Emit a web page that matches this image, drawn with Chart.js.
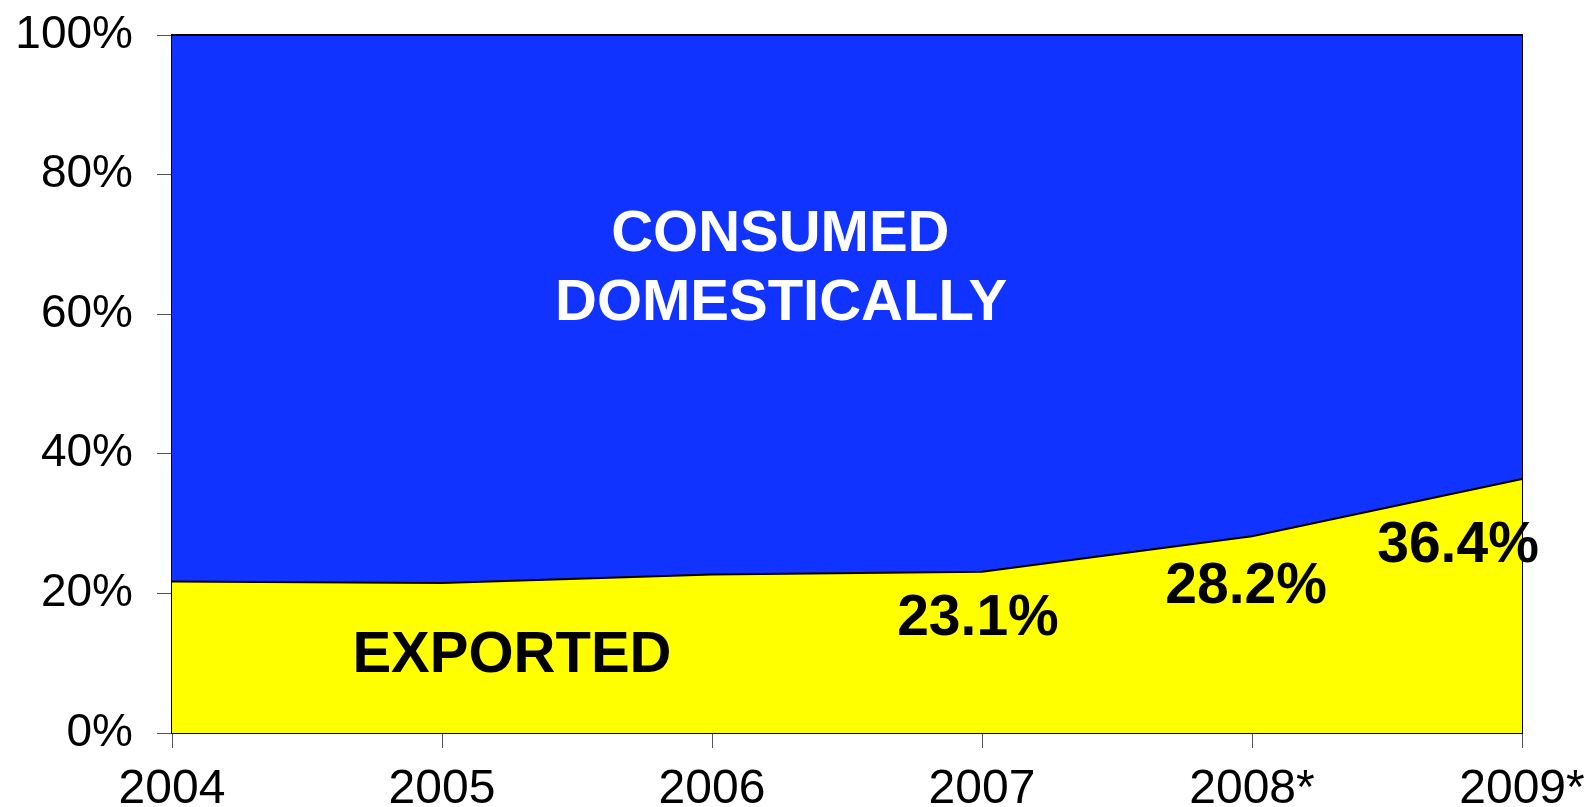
<!DOCTYPE html>
<html lang="en">
<head>
<meta charset="UTF-8">
<title>Exported vs consumed domestically</title>
<style>
    body { margin: 0; background: #fff; }
    .wrap { width: 1590px; height: 807px; position: relative; }
</style>
<script src="https://cdn.jsdelivr.net/npm/chart.js"></script>
</head>
<body>
<div class="wrap"><canvas id="chart"></canvas></div>
<script>
// data
const years = ['2004', '2005', '2006', '2007', '2008*', '2009*'];
const exported = [21.7, 21.5, 22.7, 23.1, 28.2, 36.4];
const consumed = [78.3, 78.5, 77.3, 76.9, 71.8, 63.6];
const yTicks = [0, 20, 40, 60, 80, 100];
const labelledPoints = [3, 4, 5]; // points that carry a value label

// where the texts sit, in axis units (x = category index, y = percent of baseline)
const valueLabelPos = [[2.985, 14.0], [3.978, 18.6], [4.763, 24.5]];
const areaLabels = [
    { text: 'CONSUMED', x: 2.253, y: 69.0, color: '#fff' },
    { text: 'DOMESTICALLY', x: 2.256, y: 59.2, color: '#fff' },
    { text: 'EXPORTED', x: 1.259, y: 8.75, color: '#000' }
];

const FONT = '"Liberation Sans", Arial, sans-serif';

const textPlugin = {
    id: 'areaText',
    afterDatasetsDraw(chart) {
        const { ctx, scales: { x, y } } = chart;
        ctx.save();
        ctx.textAlign = 'center';
        ctx.textBaseline = 'alphabetic';
        ctx.font = 'bold 58px ' + FONT;
        areaLabels.forEach(l => {
            ctx.fillStyle = l.color;
            ctx.fillText(l.text, x.getPixelForValue(l.x), y.getPixelForValue(l.y));
        });
        ctx.font = 'bold 57px ' + FONT;
        ctx.fillStyle = '#000';
        labelledPoints.forEach((i, k) => {
            const p = valueLabelPos[k];
            ctx.fillText(exported[i].toFixed(1) + '%', x.getPixelForValue(p[0]), y.getPixelForValue(p[1]));
        });
        ctx.restore();
    }
};

new Chart(document.getElementById('chart'), {
    type: 'line',
    data: {
        labels: years,
        datasets: [
            {
                label: 'Exported',
                data: exported,
                fill: 'origin',
                backgroundColor: '#ffff00',
                borderColor: '#000',
                borderWidth: 2,
                pointRadius: 0,
                tension: 0,
                clip: 4
            },
            {
                label: 'Consumed domestically',
                data: consumed,
                fill: '-1',
                backgroundColor: '#1033ff',
                borderColor: '#000',
                borderWidth: 2,
                pointRadius: 0,
                tension: 0,
                clip: 4
            }
        ]
    },
    options: {
        responsive: true,
        maintainAspectRatio: false,
        animation: false,
        layout: { padding: { top: 35, left: 0, right: 0, bottom: 0 } },
        plugins: { legend: { display: false }, tooltip: { enabled: false } },
        scales: {
            x: {
                offset: false,
                grid: { drawOnChartArea: false, tickLength: 15, color: '#555', lineWidth: 1 },
                border: { display: true, color: '#000', width: 2 },
                ticks: { color: '#000', font: { family: FONT, size: 48 }, padding: 13, maxRotation: 0 },
                afterFit(s) { s.height = 74; s.paddingLeft = 0; s.paddingRight = 0; }
            },
            y: {
                stacked: true,
                min: 0,
                max: 100,
                afterBuildTicks(s) { s.ticks = yTicks.map(v => ({ value: v })); },
                grid: { drawOnChartArea: false, tickLength: 15, color: '#555', lineWidth: 1 },
                border: { display: true, color: '#000', width: 2 },
                ticks: { color: '#000', font: { family: FONT, size: 46 }, padding: 24, callback: v => v + '%' },
                afterFit(s) { s.width = 172; s.paddingTop = 0; s.paddingBottom = 0; }
            },
            y2: {
                position: 'right',
                min: 0,
                max: 100,
                ticks: { display: false },
                grid: { drawOnChartArea: false, drawTicks: false },
                border: { display: true, color: '#000', width: 2 },
                afterFit(s) { s.width = 68; s.paddingTop = 0; s.paddingBottom = 0; }
            }
        }
    },
    plugins: [textPlugin]
});
</script>
</body>
</html>
